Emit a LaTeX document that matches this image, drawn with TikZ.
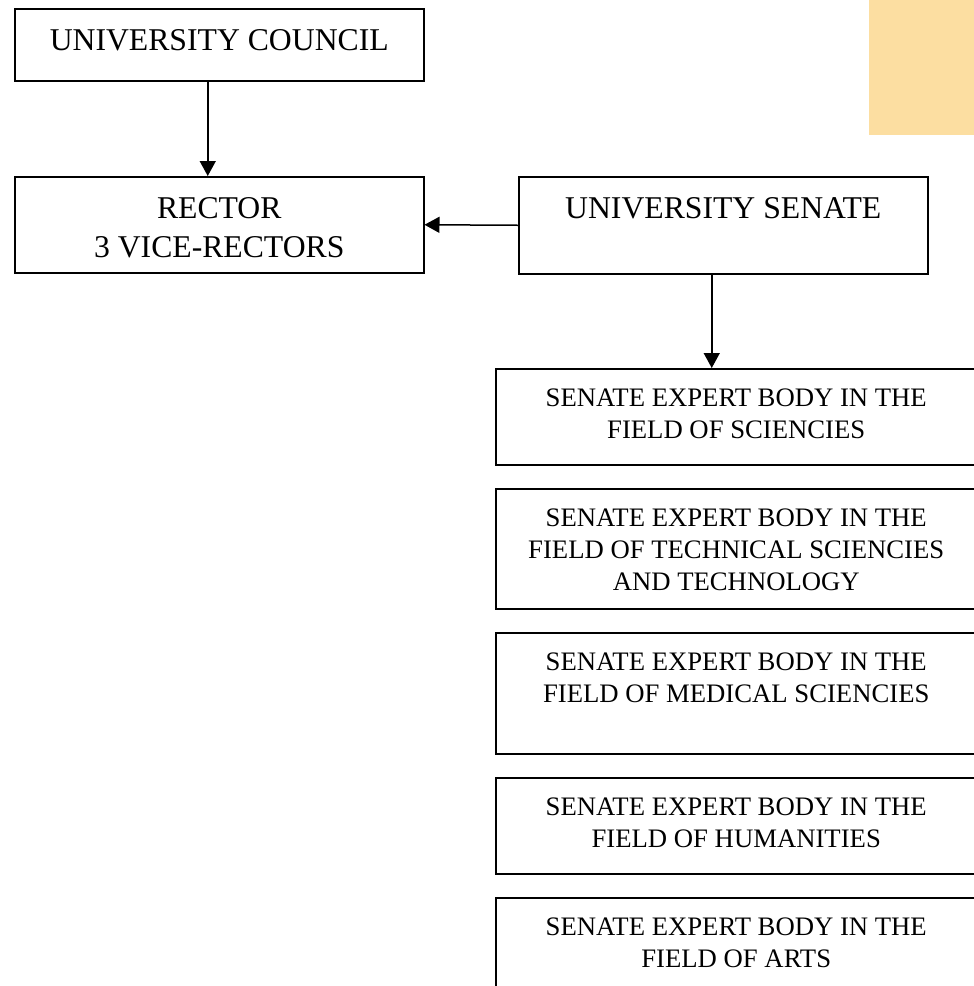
\documentclass[tikz,border=0pt]{standalone}
\usepackage{fontspec}
\setmainfont{Liberation Serif}
\usetikzlibrary{arrows.meta}
\definecolor{orangefill}{RGB}{252,222,161}
\begin{document}
\begin{tikzpicture}[x=1pt,y=-1pt,
  box/.style={draw, line width=1.5pt, inner sep=0pt, anchor=north west},
  big/.style={font=\fontsize{31.7}{39}\selectfont, align=center, inner sep=0pt, anchor=north},
  small/.style={font=\fontsize{26.7}{32}\selectfont, align=center, inner sep=0pt, anchor=north},
  arr/.style={line width=1.5pt, -{Triangle[length=15pt,width=16pt]}}]
\useasboundingbox (0,0) rectangle (974,986);
\fill[orangefill] (869,0) rectangle (974,135);
% boxes
\node[box, minimum width=409pt, minimum height=72pt] (council) at (14,8) {};
\node[box, minimum width=409pt, minimum height=96pt] (rector) at (14,176) {};
\node[box, minimum width=409pt, minimum height=97pt] (senate) at (518,176) {};
\node[box, minimum width=481pt, minimum height=96pt] (e1) at (495,368) {};
\node[box, minimum width=481pt, minimum height=120pt] (e2) at (495,488) {};
\node[box, minimum width=481pt, minimum height=121pt] (e3) at (495,632) {};
\node[box, minimum width=481pt, minimum height=96pt] (e4) at (495,777) {};
\node[box, minimum width=481pt, minimum height=120pt] (e5) at (495,897) {};
% labels
\node[big] (councilT) at ([yshift=-17pt]council.north) {\rule{0pt}{25pt}UNIVERSITY COUNCIL};
\node[big] (rectorT) at ([yshift=-17pt]rector.north) {\rule{0pt}{25pt}RECTOR\\3 VICE-RECTORS};
\node[big] (senateT) at ([yshift=-17pt]senate.north) {\rule{0pt}{25pt}UNIVERSITY SENATE};
\node[small] (e1T) at ([yshift=-16pt]e1.north) {\rule{0pt}{22pt}SENATE EXPERT BODY IN THE\\FIELD OF SCIENCIES};
\node[small] (e2T) at ([yshift=-16pt]e2.north) {\rule{0pt}{22pt}SENATE EXPERT BODY IN THE\\FIELD OF TECHNICAL SCIENCIES\\AND TECHNOLOGY};
\node[small] (e3T) at ([yshift=-16pt]e3.north) {\rule{0pt}{22pt}SENATE EXPERT BODY IN THE\\FIELD OF MEDICAL SCIENCIES};
\node[small] (e4T) at ([yshift=-16pt]e4.north) {\rule{0pt}{22pt}SENATE EXPERT BODY IN THE\\FIELD OF HUMANITIES};
\node[small] (e5T) at ([yshift=-16pt]e5.north) {\rule{0pt}{22pt}SENATE EXPERT BODY IN THE\\FIELD OF ARTS};
% connectors
\draw[arr] ([xshift=-11.5pt]council.south) -- ([xshift=-11.5pt]rector.north);
\draw[arr] (senate.west) -- (rector.east);
\draw[arr] ([xshift=-11.5pt]senate.south) -- ([xshift=-11.5pt]senate.south |- e1.north);
\end{tikzpicture}
\end{document}
